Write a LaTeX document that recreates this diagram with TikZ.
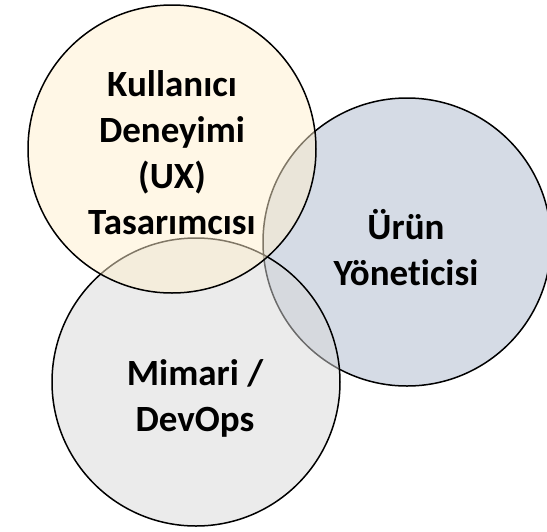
\documentclass[tikz,border=0pt]{standalone}
\usepackage{fontspec}
\setmainfont[Ligatures=NoCommon]{Carlito}
\definecolor{uxfill}{RGB}{255,239,205}
\definecolor{pmfill}{RGB}{171,183,203}
\definecolor{opsfill}{RGB}{215,215,215}
\begin{document}
\begin{tikzpicture}[x=1pt,y=-1pt,
  venn/.style={circle, inner sep=0pt, minimum size=288pt, draw=black, line width=1.5pt, fill opacity=0.5, draw opacity=1},
  lbl/.style={align=center, inner sep=0pt, font=\bfseries\fontsize{37}{46}\selectfont, text=black, text opacity=1}]
\useasboundingbox (0,0) rectangle (547,531);
\node[venn, fill=pmfill] (pm) at (407,242) {};
\node[venn, fill=opsfill] (ops) at (196,382) {};
\node[venn, fill=uxfill] (ux) at (172,149) {};
\node[lbl] (uxt) at (172,153) {Kullanıcı\\Deneyimi\\(UX)\\Tasarımcısı};
\node[lbl] (pmt) at (406,248) {Ürün\\Yöneticisi};
\node[lbl] (opst) at (195,398) {Mimari /\\DevOps};
\end{tikzpicture}
\end{document}
